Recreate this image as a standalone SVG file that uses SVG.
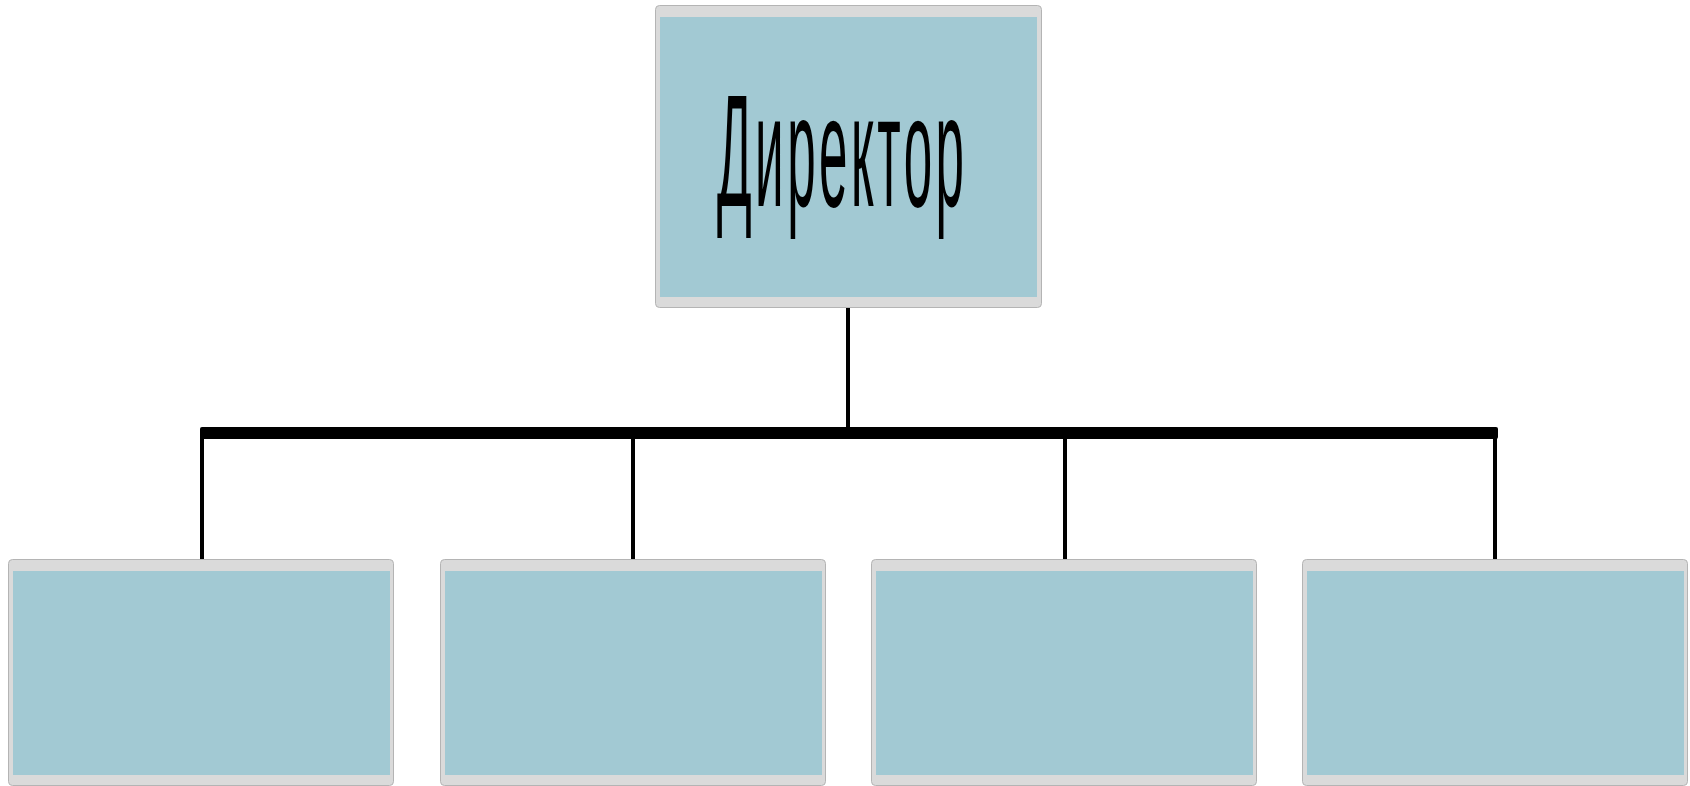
<svg xmlns="http://www.w3.org/2000/svg" width="1690" height="786" viewBox="0 0 1690 786">
<style>
.frame{fill:#dadada;stroke:#b4b4b4;stroke-width:1}
.fill{fill:#a2c9d3}
.conn{stroke:#000;fill:none;stroke-width:4}
.bar{fill:#000}
.lbl{font-family:"Liberation Sans",Arial,sans-serif;font-size:160px;fill:#000}
</style>
<rect width="1690" height="786" fill="#fff"/>
<g id="connectors">
<line class="conn" x1="848" y1="308" x2="848" y2="430"/>
<rect class="bar" x="200" y="427" width="1298" height="12" rx="2"/>
<line class="conn" x1="202" y1="435" x2="202" y2="559"/>
<line class="conn" x1="633" y1="435" x2="633" y2="559"/>
<line class="conn" x1="1065" y1="435" x2="1065" y2="559"/>
<line class="conn" x1="1495" y1="435" x2="1495" y2="559"/>
</g>
<g id="director">
<rect class="frame" x="655.5" y="5.5" width="386" height="302" rx="4"/>
<rect class="fill" x="660" y="17" width="377" height="280"/>
<text class="lbl" transform="translate(717,206) scale(0.32,1)" x="0" y="0" textLength="772" lengthAdjust="spacing">Директор</text>
</g>
<g id="node1">
<rect class="frame" x="8.5" y="559.5" width="385" height="226" rx="4"/>
<rect class="fill" x="13" y="571" width="377" height="204"/>
</g>
<g id="node2">
<rect class="frame" x="440.5" y="559.5" width="385" height="226" rx="4"/>
<rect class="fill" x="445" y="571" width="377" height="204"/>
</g>
<g id="node3">
<rect class="frame" x="871.5" y="559.5" width="385" height="226" rx="4"/>
<rect class="fill" x="876" y="571" width="377" height="204"/>
</g>
<g id="node4">
<rect class="frame" x="1302.5" y="559.5" width="385" height="226" rx="4"/>
<rect class="fill" x="1307" y="571" width="377" height="204"/>
</g>
</svg>
